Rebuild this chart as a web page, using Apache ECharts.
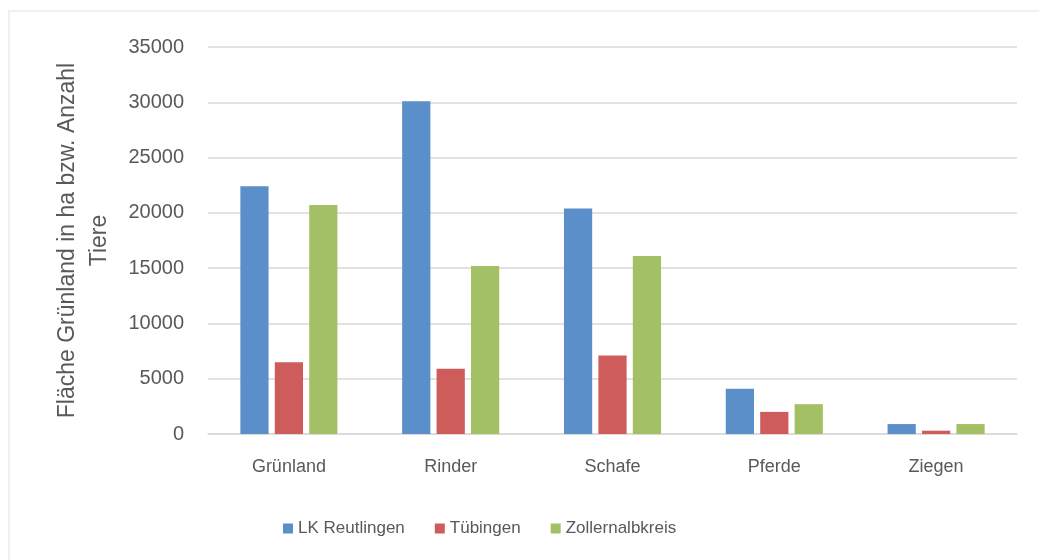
<!DOCTYPE html>
<html>
<head>
<meta charset="utf-8">
<script src="https://cdn.jsdelivr.net/npm/echarts@6/dist/echarts.min.js"></script>
<style>
html,body{margin:0;padding:0;background:#fff;}
#frame{position:absolute;left:8px;top:10px;width:1031px;height:550px;border-left:2px solid #f0f0f0;border-top:2px solid #f0f0f0;box-sizing:border-box;}
#chart{position:absolute;left:0;top:0;width:1039px;height:560px;}
</style>
</head>
<body>
<div id="frame"></div>
<div id="chart"></div>
<script>
const categories = ['Grünland', 'Rinder', 'Schafe', 'Pferde', 'Ziegen'];
const reutlingen = [22400, 30100, 20400, 4100, 900];
const tuebingen = [6500, 5900, 7100, 2000, 300];
const zollernalb = [20700, 15200, 16100, 2700, 900];
const yTicks = [0, 5000, 10000, 15000, 20000, 25000, 30000, 35000];

const font = 'Liberation Sans, Arial, sans-serif';
const chart = echarts.init(document.getElementById('chart'), null, {renderer: 'canvas'});
chart.setOption({
  animation: false,
  backgroundColor: 'transparent',
  color: ['#5b8fc9', '#cd5c5a', '#a4c064'],
  grid: {left: 208, right: 22, top: 47, bottom: 126},
  legend: {
    top: 515,
    left: 278,
    itemWidth: 10,
    itemHeight: 10,
    itemGap: 30,
    icon: 'rect',
    textStyle: {color: '#595959', fontSize: 17, fontFamily: font},
    data: ['LK Reutlingen', 'Tübingen', 'Zollernalbkreis']
  },
  xAxis: {
    type: 'category',
    data: categories,
    axisLine: {lineStyle: {color: '#d9d9d9', width: 1.5}},
    axisTick: {show: false},
    axisLabel: {color: '#595959', fontSize: 18, fontFamily: font, margin: 24}
  },
  yAxis: {
    type: 'value',
    min: yTicks[0],
    max: yTicks[yTicks.length - 1],
    interval: 5000,
    name: 'Fläche Grünland in ha bzw. Anzahl\nTiere',
    nameLocation: 'middle',
    nameGap: 92,
    nameTextStyle: {color: '#595959', fontSize: 23, fontFamily: font, lineHeight: 32},
    axisLine: {show: false},
    axisTick: {show: false},
    axisLabel: {color: '#595959', fontSize: 20, fontFamily: font, margin: 24, formatter: v => String(v)},
    splitLine: {lineStyle: {color: '#d9d9d9', width: 1.5}}
  },
  series: [
    {name: 'LK Reutlingen', type: 'bar', data: reutlingen, barGap: '22%', barCategoryGap: '40%'},
    {name: 'Tübingen', type: 'bar', data: tuebingen, barGap: '22%', barCategoryGap: '40%'},
    {name: 'Zollernalbkreis', type: 'bar', data: zollernalb, barGap: '22%', barCategoryGap: '40%'}
  ]
});
</script>
</body>
</html>
